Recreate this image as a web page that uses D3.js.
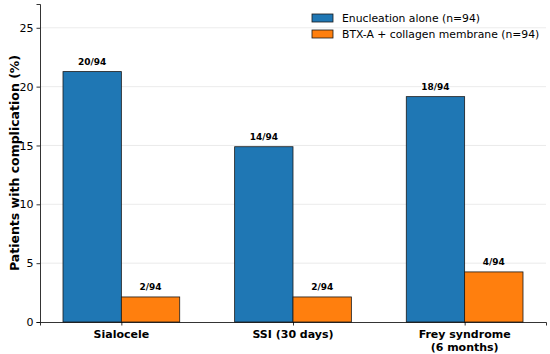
<!DOCTYPE html>
<html>
<head>
<meta charset="utf-8">
<script src="https://cdn.jsdelivr.net/npm/d3@7/dist/d3.min.js"></script>
<style>
  body { margin: 0; background: #fff; }
  text { font-family: "DejaVu Sans", sans-serif; }
</style>
</head>
<body>
<svg id="chart" width="550" height="354"></svg>
<script>
const categories = ['Sialocele', 'SSI (30 days)', 'Frey syndrome\n(6 months)'];
const seriesNames = ['Enucleation alone (n=94)', 'BTX-A + collagen membrane (n=94)'];
const seriesColors = ['#1f77b4', '#ff7f0e'];
const counts = [[20, 14, 18], [2, 2, 4]];
const total = 94;
const yTicks = [0, 5, 10, 15, 20, 25];

const svg = d3.select('#chart');
const margin = {left: 40, right: 4, top: 4, bottom: 32};
const width = 550, height = 354;
const barW = 0.34;

// index-based x scale, matplotlib-style margins
const span = (categories.length - 1) + 2 * barW;
const pad = span * 0.05;
const x = d3.scaleLinear()
  .domain([-barW - pad, categories.length - 1 + barW + pad])
  .range([margin.left, width - margin.right]);

const maxPct = d3.max(counts.flat()) / total * 100;
const y = d3.scaleLinear()
  .domain([0, maxPct * 1.27])
  .range([height - margin.bottom, margin.top]);

// grid
svg.append('g')
  .selectAll('line')
  .data(yTicks.slice(1))
  .join('line')
  .attr('x1', margin.left)
  .attr('x2', width - margin.right)
  .attr('y1', d => y(d))
  .attr('y2', d => y(d))
  .attr('stroke', '#e6e6e6')
  .attr('stroke-width', 0.8);

// bars
const bars = [];
counts.forEach((row, s) => {
  row.forEach((c, i) => {
    bars.push({s, i, c, pct: c / total * 100});
  });
});

svg.append('g')
  .selectAll('rect')
  .data(bars)
  .join('rect')
  .attr('x', d => x(d.i + (d.s === 0 ? -barW : 0)))
  .attr('width', d => x(barW) - x(0))
  .attr('y', d => y(d.pct))
  .attr('height', d => y(0) - y(d.pct))
  .attr('fill', d => seriesColors[d.s])
  .attr('stroke', '#1a1a1a')
  .attr('stroke-width', 0.8);

svg.append('g')
  .selectAll('text')
  .data(bars)
  .join('text')
  .attr('x', d => x(d.i + (d.s === 0 ? -barW / 2 : barW / 2)))
  .attr('y', d => y(d.pct + 0.55))
  .attr('text-anchor', 'middle')
  .attr('font-size', 9)
  .attr('font-weight', 'bold')
  .text(d => `${d.c}/${total}`);

// y axis
const yAxis = svg.append('g')
  .attr('transform', `translate(${margin.left},0)`)
  .call(d3.axisLeft(y).tickValues(yTicks).tickSize(3.5).tickPadding(3));
yAxis.select('.domain').attr('stroke', '#000').attr('stroke-width', 0.8);
yAxis.selectAll('.tick line').attr('stroke', '#000').attr('stroke-width', 0.8);
yAxis.selectAll('.tick text').attr('font-size', 11).attr('fill', '#000')
  .style('font-family', '"DejaVu Sans", sans-serif');

// x axis
const xAxis = svg.append('g')
  .attr('transform', `translate(0,${height - margin.bottom})`)
  .call(d3.axisBottom(x).tickValues(d3.range(categories.length)).tickSize(3.5).tickFormat(''));
xAxis.select('.domain').attr('stroke', '#000').attr('stroke-width', 0.8);
xAxis.selectAll('.tick line').attr('stroke', '#000').attr('stroke-width', 0.8);

const xl = svg.append('g')
  .selectAll('text')
  .data(categories)
  .join('text')
  .attr('x', (d, i) => x(i))
  .attr('y', height - margin.bottom + 16)
  .attr('text-anchor', 'middle')
  .attr('font-size', 11)
  .attr('font-weight', 'bold');
xl.each(function (d) {
  const t = d3.select(this);
  d.split('\n').forEach((line, k) => {
    t.append('tspan')
      .attr('x', t.attr('x'))
      .attr('dy', k === 0 ? 0 : 12.5)
      .text(line);
  });
});

// y label
svg.append('text')
  .attr('transform', `translate(14,${(y(0) + margin.top) / 2}) rotate(-90)`)
  .attr('text-anchor', 'middle')
  .attr('dominant-baseline', 'central')
  .attr('font-size', 12.5)
  .attr('font-weight', 'bold')
  .text('Patients with complication (%)');

// legend
const legend = svg.append('g').attr('transform', 'translate(312,13)');
seriesNames.forEach((name, s) => {
  const g = legend.append('g').attr('transform', `translate(0,${s * 16})`);
  g.append('rect')
    .attr('width', 21)
    .attr('height', 8)
    .attr('y', 1)
    .attr('fill', seriesColors[s])
    .attr('stroke', '#1a1a1a')
    .attr('stroke-width', 0.8);
  g.append('text')
    .attr('x', 30)
    .attr('y', 5)
    .attr('dominant-baseline', 'central')
    .attr('font-size', 10.8)
    .text(name);
});
</script>
</body>
</html>
